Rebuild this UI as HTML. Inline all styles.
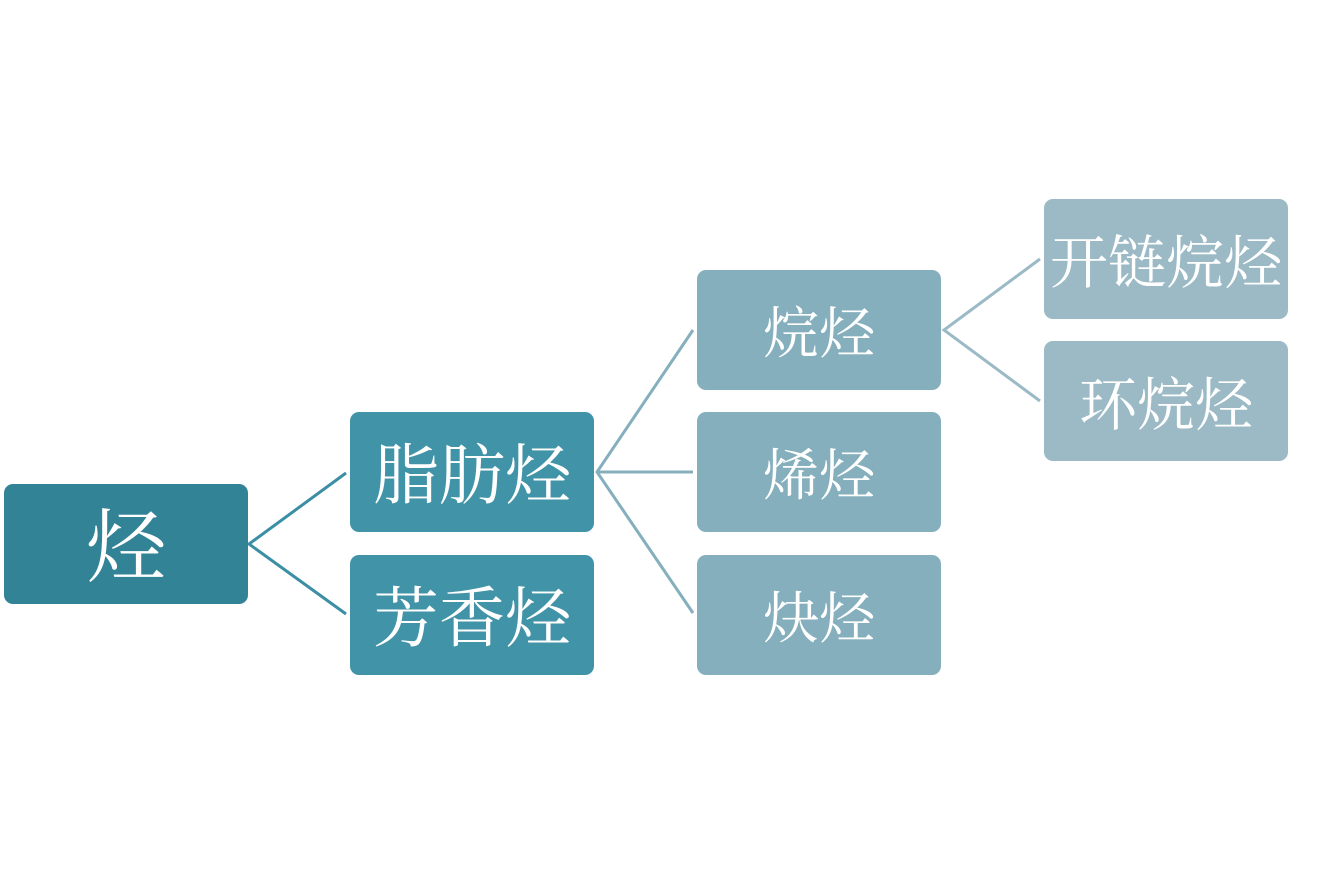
<!DOCTYPE html>
<html><head><meta charset="utf-8"><style>
body{margin:0;width:1325px;height:873px;background:#fff;position:relative;overflow:hidden}
.b{position:absolute;width:244px;height:120px;box-sizing:border-box;padding-top:10px;border-radius:9px;color:#fff;display:flex;align-items:center;justify-content:center;font-family:"Liberation Serif","Noto Serif CJK SC",serif;font-size:56px;line-height:1}
svg{position:absolute;left:0;top:0}
</style></head><body>
<svg width="1325" height="873">
<g fill="none" stroke-width="3">
<polyline points="346,473 249,544 346,614" stroke="#3b8ea3"/>
<polyline points="693,330 597,472 693,613" stroke="#85afbd"/>
<line x1="597" y1="472" x2="693" y2="472" stroke="#85afbd"/>
<polyline points="1040,259 944,330 1040,401" stroke="#9bbac5"/>
</g></svg>
<div class="b" style="left:4px;top:484px;background:#328396;font-size:80px">烃</div>
<div class="b" style="left:350px;top:412px;background:#4193a8;font-size:66px">脂肪烃</div>
<div class="b" style="left:350px;top:555px;background:#4193a8;font-size:66px">芳香烃</div>
<div class="b" style="left:697px;top:270px;background:#85afbd">烷烃</div>
<div class="b" style="left:697px;top:412px;background:#85afbd">烯烃</div>
<div class="b" style="left:697px;top:555px;background:#85afbd">炔烃</div>
<div class="b" style="left:1044px;top:199px;background:#9bbac5;font-size:58px">开链烷烃</div>
<div class="b" style="left:1044px;top:341px;background:#9bbac5;font-size:58px">环烷烃</div>
</body></html>
